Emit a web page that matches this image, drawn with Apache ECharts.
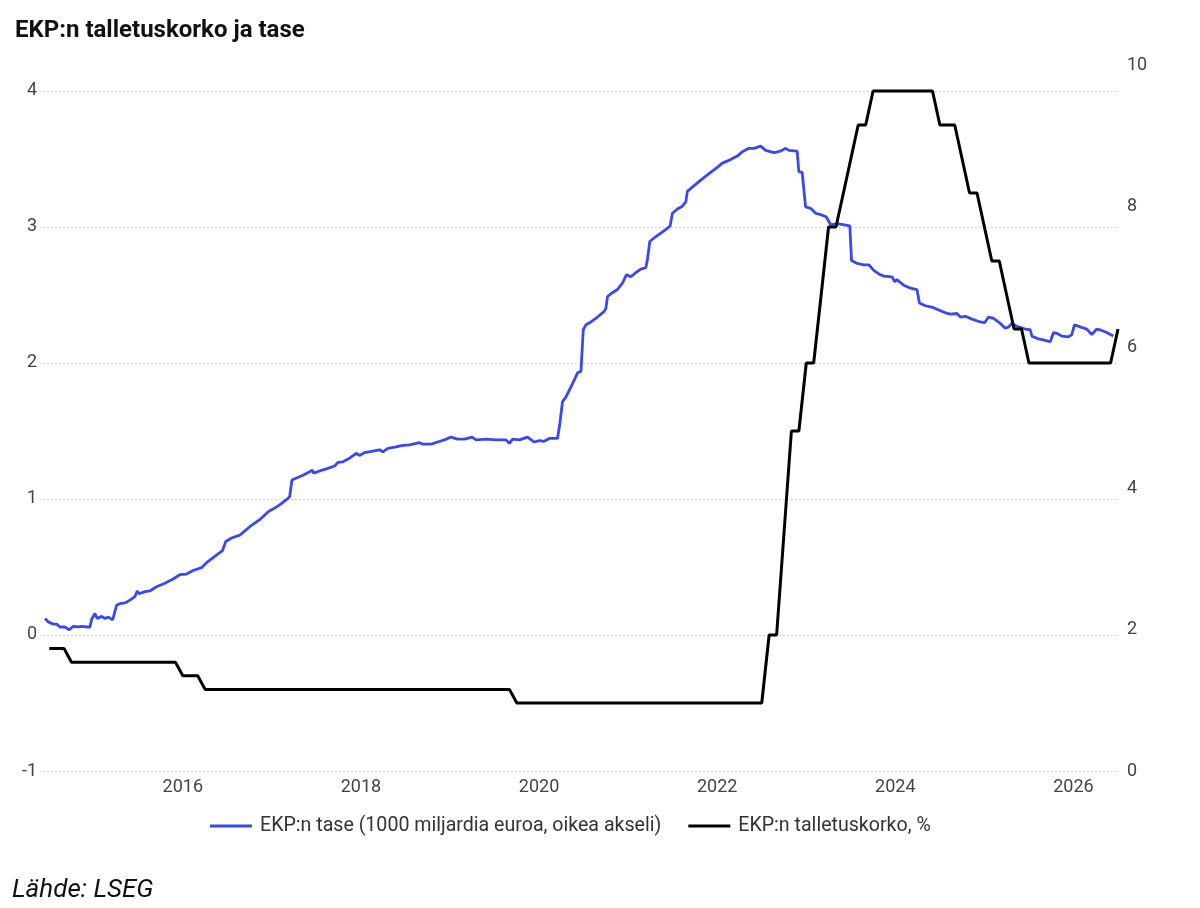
<!DOCTYPE html>
<html>
<head>
<meta charset="utf-8">
<script src="https://cdn.jsdelivr.net/npm/echarts@6/dist/echarts.min.js"></script>
<style>
html,body{margin:0;padding:0;background:#fff;}
#chart{width:1200px;height:908px;}
</style>
</head>
<body>
<div id="chart"></div>
<script>
const titleText = 'EKP:n talletuskorko ja tase';
const sourceText = 'Lähde: LSEG';
const balanceName = 'EKP:n tase (1000 miljardia euroa, oikea akseli)';
const rateName = 'EKP:n talletuskorko, %';

const xTickLabels = [2016, 2018, 2020, 2022, 2024, 2026];
const leftTicks = [-1, 0, 1, 2, 3, 4];
const rightTicks = [0, 2, 4, 6, 8, 10];

// ECB deposit rate (%), left axis; x as decimal year
const rateYears = [2014.5, 2014.667, 2014.75, 2015.917, 2016.0, 2016.167, 2016.25, 2019.667, 2019.75,
  2022.5, 2022.583, 2022.667, 2022.75, 2022.833, 2022.917, 2023.0, 2023.083, 2023.167, 2023.25, 2023.333,
  2023.417, 2023.5, 2023.583, 2023.667, 2023.75, 2024.417, 2024.5, 2024.667, 2024.75, 2024.833, 2024.917,
  2025.0, 2025.083, 2025.167, 2025.25, 2025.333, 2025.417, 2025.5, 2026.417, 2026.5];
const rateValues = [-0.1, -0.1, -0.2, -0.2, -0.3, -0.3, -0.4, -0.4, -0.5,
  -0.5, 0, 0, 0.75, 1.5, 1.5, 2.0, 2.0, 2.5, 3.0, 3.0,
  3.25, 3.5, 3.75, 3.75, 4.0, 4.0, 3.75, 3.75, 3.5, 3.25, 3.25,
  3.0, 2.75, 2.75, 2.5, 2.25, 2.25, 2.0, 2.0, 2.25];

// ECB balance sheet (1000 bn EUR), right axis
const balanceYears = [2014.453,2014.490,2014.546,2014.584,2014.621,2014.677,2014.725,2014.770,2014.826,2014.864,
  2014.920,2014.957,2014.976,2015.013,2015.039,2015.089,2015.126,2015.163,2015.212,2015.226,
  2015.257,2015.294,2015.350,2015.406,2015.462,2015.488,2015.510,2015.574,2015.630,2015.705,
  2015.798,2015.891,2015.966,2016.041,2016.115,2016.210,2016.266,2016.359,2016.445,2016.463,
  2016.482,2016.546,2016.639,2016.751,2016.863,2016.956,2017.012,2017.087,2017.181,2017.200,
  2017.225,2017.256,2017.349,2017.424,2017.454,2017.469,2017.536,2017.611,2017.704,2017.741,
  2017.797,2017.872,2017.947,2017.984,2018.040,2018.133,2018.209,2018.246,2018.302,2018.396,
  2018.452,2018.545,2018.657,2018.694,2018.788,2018.862,2018.937,2019.012,2019.086,2019.161,
  2019.248,2019.293,2019.405,2019.517,2019.629,2019.666,2019.703,2019.778,2019.871,2019.946,
  2020.002,2020.058,2020.114,2020.133,2020.207,2020.234,2020.263,2020.302,2020.358,2020.395,
  2020.432,2020.470,2020.496,2020.526,2020.582,2020.656,2020.731,2020.750,2020.768,2020.806,
  2020.880,2020.936,2020.981,2021.030,2021.086,2021.142,2021.198,2021.216,2021.243,2021.291,
  2021.367,2021.423,2021.471,2021.497,2021.553,2021.609,2021.647,2021.665,2021.721,2021.815,
  2021.908,2022.001,2022.057,2022.151,2022.225,2022.281,2022.357,2022.413,2022.488,2022.544,
  2022.637,2022.712,2022.768,2022.805,2022.898,2022.916,2022.954,2022.992,2023.048,2023.104,
  2023.160,2023.223,2023.272,2023.365,2023.489,2023.508,2023.571,2023.646,2023.702,2023.758,
  2023.814,2023.870,2023.963,2023.993,2024.019,2024.094,2024.169,2024.243,2024.270,2024.337,
  2024.411,2024.487,2024.562,2024.618,2024.692,2024.730,2024.786,2024.860,2024.954,2025.002,
  2025.047,2025.103,2025.178,2025.234,2025.271,2025.308,2025.364,2025.459,2025.515,2025.533,
  2025.608,2025.683,2025.739,2025.776,2025.813,2025.869,2025.944,2025.981,2026.011,2026.075,
  2026.149,2026.205,2026.261,2026.317,2026.373,2026.448];
const balanceValues = [2.16,2.11,2.08,2.08,2.04,2.04,2.00,2.05,2.04,2.05,
  2.04,2.04,2.15,2.23,2.16,2.19,2.16,2.18,2.14,2.16,
  2.35,2.37,2.38,2.42,2.47,2.55,2.51,2.54,2.55,2.61,
  2.66,2.72,2.78,2.79,2.84,2.88,2.95,3.04,3.12,3.13,
  3.25,3.30,3.34,3.46,3.56,3.67,3.71,3.77,3.86,3.89,
  4.12,4.14,4.19,4.24,4.26,4.22,4.25,4.28,4.32,4.37,
  4.38,4.43,4.50,4.47,4.51,4.53,4.55,4.52,4.57,4.59,
  4.61,4.62,4.65,4.63,4.63,4.66,4.69,4.73,4.70,4.70,
  4.73,4.69,4.70,4.69,4.69,4.64,4.70,4.69,4.73,4.66,
  4.68,4.67,4.71,4.69,4.71,4.93,5.23,5.30,5.44,5.54,
  5.64,5.66,6.25,6.32,6.36,6.43,6.51,6.55,6.72,6.76,
  6.82,6.91,7.03,7.00,7.06,7.11,7.13,7.24,7.50,7.55,
  7.62,7.67,7.72,7.90,7.96,8.00,8.06,8.21,8.27,8.37,
  8.46,8.55,8.61,8.66,8.71,8.77,8.82,8.82,8.85,8.79,
  8.76,8.78,8.82,8.79,8.78,8.49,8.48,7.99,7.97,7.90,
  7.88,7.85,7.74,7.75,7.72,7.23,7.19,7.17,7.17,7.09,
  7.04,7.01,7.00,6.93,6.96,6.88,6.84,6.82,6.63,6.59,
  6.57,6.53,6.49,6.47,6.48,6.43,6.44,6.40,6.36,6.35,
  6.43,6.41,6.34,6.27,6.29,6.34,6.30,6.26,6.25,6.16,
  6.12,6.10,6.08,6.21,6.20,6.16,6.15,6.18,6.32,6.29,
  6.26,6.18,6.26,6.24,6.21,6.16];

const rateData = rateYears.map((x, i) => [x, rateValues[i]]);
const balanceData = balanceYears.map((x, i) => [x, balanceValues[i]]);

const FONT = 'Roboto, "Noto Sans", sans-serif';
const chart = echarts.init(document.getElementById('chart'), null, {renderer: 'canvas'});

const gridColors = leftTicks.map(() => '#c8c8c8').concat(['rgba(0,0,0,0)']);

chart.setOption({
  animation: false,
  backgroundColor: '#fff',
  textStyle: {fontFamily: FONT},
  title: [
    {text: titleText, left: 15, top: 19, padding: 0,
     textStyle: {fontFamily: FONT, fontSize: 24, fontWeight: 'bold', color: '#111'}},
    {text: sourceText, left: 12, top: 877, padding: 0,
     textStyle: {fontFamily: FONT, fontSize: 26, fontWeight: 'normal', fontStyle: 'italic', color: '#111'}}
  ],
  legend: {
    data: [balanceName, rateName],
    left: 210, top: 816, padding: 0,
    icon: 'rect', itemWidth: 42, itemHeight: 3, itemGap: 27,
    textStyle: {fontFamily: FONT, fontSize: 19.6, color: '#333', padding: [0,0,0,3]}
  },
  grid: {left: 43, right: 82, top: 65, bottom: 137, containLabel: false},
  xAxis: {
    type: 'value', min: 2014.43, max: 2026.5,
    axisLine: {show: false}, axisTick: {show: false}, splitLine: {show: false},
    axisLabel: {
      customValues: xTickLabels,
      margin: 7, fontSize: 18, color: '#444', fontFamily: FONT,
      formatter: function (v) {
        const r = Math.round(v);
        return (Math.abs(v - r) < 1e-6 && xTickLabels.indexOf(r) >= 0) ? String(r) : '';
      }
    }
  },
  yAxis: [
    {
      type: 'value', position: 'left', min: -1, max: 4.191, interval: 1,
      axisLine: {show: false}, axisTick: {show: false},
      axisLabel: {
        margin: 6, fontSize: 18, color: '#444', fontFamily: FONT,
        formatter: function (v) {
          const r = Math.round(v);
          return (Math.abs(v - r) < 1e-6 && leftTicks.indexOf(r) >= 0) ? String(r) : '';
        }
      },
      splitLine: {show: true, showMaxLine: false, lineStyle: {color: gridColors, type: [1.5, 2.5], width: 1}}
    },
    {
      type: 'value', position: 'right', min: 0, max: 10, interval: 2,
      axisLine: {show: false}, axisTick: {show: false}, splitLine: {show: false},
      axisLabel: {margin: 9, fontSize: 18, color: '#444', fontFamily: FONT,
        formatter: function (v) { return rightTicks.indexOf(v) >= 0 ? String(v) : ''; }}
    }
  ],
  series: [
    {
      name: balanceName, type: 'line', yAxisIndex: 1, data: balanceData,
      showSymbol: false, symbol: 'none', color: '#3a48f0',
      lineStyle: {color: '#3a48f0', width: 2.8}, z: 3
    },
    {
      name: rateName, type: 'line', yAxisIndex: 0, data: rateData,
      showSymbol: false, symbol: 'none', color: '#000',
      lineStyle: {color: '#000', width: 3}, z: 4
    }
  ]
});
</script>
</body>
</html>
